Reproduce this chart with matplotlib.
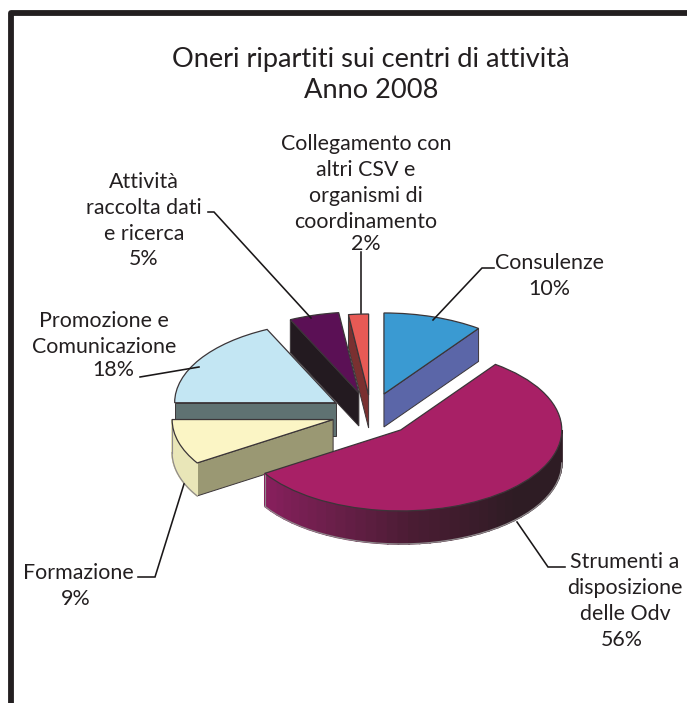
import numpy as np
import matplotlib
matplotlib.use("Agg")
import matplotlib.pyplot as plt
from matplotlib.patches import Polygon
from matplotlib.colors import to_rgb

# ---- data
title_lines = "Oneri ripartiti sui centri di attività\nAnno 2008"
categories = ["Consulenze", "Strumenti a\ndisposizione\ndelle Odv", "Formazione",
              "Promozione e\nComunicazione", "Attività\nraccolta dati\ne ricerca",
              "Collegamento con\naltri CSV e\norganismi di\ncoordinamento"]
values = [10, 56, 9, 18, 5, 2]

# ---- styling / layout
explode = [0.26, 0.27, 0.245, 0.26, 0.27, 0.235]
top_colors = ["#3a9ad2", "#a82066", "#fbf5c5", "#c3e6f3", "#5b1055", "#e85a55"]
side_colors = ["#5b66a8", "#4e1c38", "#9a9873", "#5f7272", "#231a20", "#7a3030"]
rim_colors = ["#5b66a8", None, "#e9e6b8", "#5f7272", "#231a20", "#7a3030"]
draw_order = [4, 5, 0, 3, 2, 1]
W, H = 687, 703
CX, CY, RX, RY, DEPTH = 371, 414, 161, 81, 33
INK = "#231f20"
FONT = "Lato"

cat_pos = [(549, 263), (625, 588), (78, 573), (104, 334), (144, 208), (366, 183)]
pct_pos = [(549, 289), (622, 640), (76, 599), (113, 370), (144, 259), (366, 244)]
leaders = [[(433, 320), (482, 268), (494, 268)],
           [(517, 522), (548, 567), (565, 567)],
           [(184, 484), (155, 577), (138, 577)],
           [(199, 367), (140, 377)],
           [(311, 318), (214, 212), (208, 212)],
           [(361, 313), (361, 252)]]

fig = plt.figure(figsize=(W / 100, H / 100), dpi=100, facecolor="white")
ax = fig.add_axes([0, 0, 1, 1])
wedges, _ = ax.pie(values, explode=explode, colors=top_colors, startangle=90,
                   counterclock=False, radius=1,
                   wedgeprops=dict(edgecolor="#3b3538", linewidth=0.9))
ax.set_aspect("auto")
ax.set_xlim(-CX / RX, (W - CX) / RX)
ax.set_ylim((CY - H) / RY, CY / RY)
ax.axis("off")
d = DEPTH / RY


def radial_face(w, ang, color, z):
    cx, cy = w.center
    a = np.deg2rad(ang)
    px, py = cx + np.cos(a), cy + np.sin(a)
    ax.add_patch(Polygon([(cx, cy), (px, py), (px, py - d), (cx, cy - d)],
                         facecolor=color, edgecolor="#3b3538", linewidth=0.7, zorder=z))


def rim_face(w, t1, t2, color, z, gradient=False):
    cx, cy = w.center
    th = np.deg2rad(np.linspace(t1, t2, 40))
    stops_t = np.array([-147.6, -115, -85, -45, 0])
    stops = np.array([to_rgb(c) for c in ["#8a1f5f", "#6b1f4a", "#4a1c33", "#2e1c24", "#2e1c24"]])
    for i in range(len(th) - 1):
        a, b = th[i], th[i + 1]
        if gradient:
            deg = np.rad2deg((a + b) / 2)
            col = [np.interp(deg, stops_t, stops[:, k]) for k in range(3)]
        else:
            col = color
        ax.add_patch(Polygon([(cx + np.cos(a), cy + np.sin(a)), (cx + np.cos(b), cy + np.sin(b)),
                              (cx + np.cos(b), cy + np.sin(b) - d), (cx + np.cos(a), cy + np.sin(a) - d)],
                             facecolor=col, edgecolor=col, linewidth=1.2, zorder=z))
    ax.plot(cx + np.cos(th), cy + np.sin(th) - d, color="#8f8a8c", lw=0.9, zorder=z + 0.1)
    ax.plot([cx + np.cos(th[0])] * 2, [cy + np.sin(th[0]), cy + np.sin(th[0]) - d],
            color="#8f8a8c", lw=0.8, zorder=z + 0.1)


for rank, i in enumerate(draw_order):
    w = wedges[i]
    # pie reports angles anticlockwise: theta1 is the lower bound
    t1, t2 = w.theta1, w.theta2
    z = 10 + rank * 3
    w.set_zorder(z + 1)
    n1 = np.sin(np.deg2rad(t1 - 90))
    n2 = np.sin(np.deg2rad(t2 + 90))
    if n1 < -1e-6:
        radial_face(w, t1, side_colors[i], z)
    if n2 < -1e-6:
        radial_face(w, t2, side_colors[i], z)
    # outer rim faces the viewer only under the horizontal
    lo, hi = t1, t2
    while hi > 180:
        lo -= 360
        hi -= 360
    lo2, hi2 = max(lo, -180), min(hi, 0)
    if hi2 > lo2:
        rim_face(w, lo2, hi2, rim_colors[i], z, gradient=rim_colors[i] is None)

# overlay in figure pixels for frame, leaders and text
ov = fig.add_axes([0, 0, 1, 1], facecolor="none")
ov.set_xlim(0, W)
ov.set_ylim(H, 0)
ov.axis("off")
ov.plot([10.5, 10.5, W], [H, 13, 13], color=INK, lw=4.2, solid_joinstyle="round", solid_capstyle="butt")
for pts in leaders:
    xs, ys = zip(*pts)
    ov.plot(xs, ys, color="#1a1718", lw=1.15, solid_joinstyle="miter")

ov.text(371, 75, title_lines, ha="center", va="center", fontsize=19.6, family=FONT,
        color=INK, linespacing=1.25)
for (x, y), (px, py), cat, v in zip(cat_pos, pct_pos, categories, values):
    ov.text(x, y, cat, ha="center", va="center", fontsize=15.4, family=FONT,
            color=INK, linespacing=1.36)
    ov.text(px, py, f"{v}%", ha="center", va="center", fontsize=15.4, family=FONT, color=INK)

fig.savefig("out.png", dpi=100, facecolor="white")
